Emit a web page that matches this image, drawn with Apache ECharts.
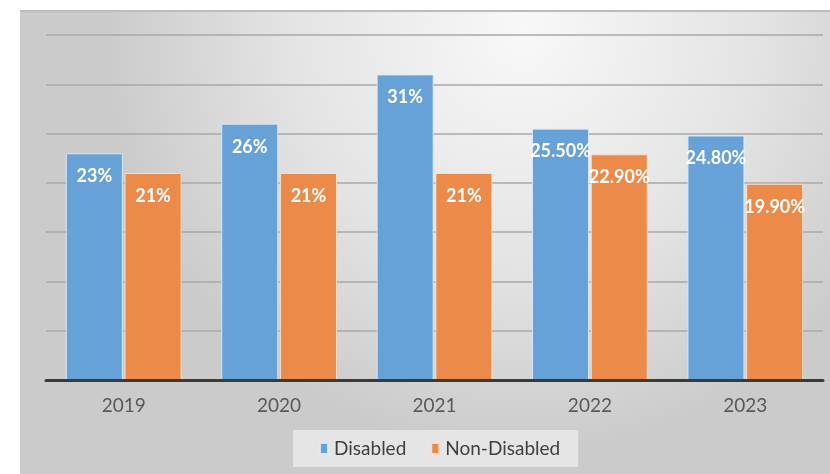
<!DOCTYPE html>
<html>
<head>
<meta charset="utf-8">
<script src="https://cdn.jsdelivr.net/npm/echarts@6/dist/echarts.min.js"></script>
<style>
html,body{margin:0;padding:0;background:#fff;}
#chart{width:830px;height:474px;}
</style>
</head>
<body>
<div id="chart"></div>
<script>
const categories = ['2019', '2020', '2021', '2022', '2023'];
const disabled = [23, 26, 31, 25.5, 24.8];
const nonDisabled = [21, 21, 21, 22.9, 19.9];
const disabledLabels = ['23%', '26%', '31%', '25.50%', '24.80%'];
const nonDisabledLabels = ['21%', '21%', '21%', '22.90%', '19.90%'];

const chart = echarts.init(document.getElementById('chart'), null, {renderer: 'canvas'});

const labelStyle = {
  show: true,
  position: 'insideTop',
  distance: 14,
  color: '#ffffff',
  fontFamily: 'Lato',
  fontWeight: 'bold',
  fontSize: 18
};

chart.setOption({
  animation: false,
  backgroundColor: '#ffffff',
  graphic: [
    {
      type: 'rect',
      z: -10,
      silent: true,
      shape: {x: 20, y: 10, width: 810, height: 464},
      style: {
        fill: new echarts.graphic.RadialGradient(0.62, 0.05, 0.9, [
          {offset: 0, color: '#f8f8f8'},
          {offset: 0.55, color: '#e4e4e4'},
          {offset: 1, color: '#cbcbcb'}
        ])
      }
    },
    {
      type: 'line',
      z: -9,
      silent: true,
      shape: {x1: 20, y1: 11, x2: 830, y2: 11},
      style: {stroke: '#bdbdbd', lineWidth: 2}
    }
  ],
  grid: {left: 46, right: 7, top: 35, bottom: 94, containLabel: false},
  legend: {
    top: 430,
    left: 293,
    padding: [9, 18, 9, 26],
    backgroundColor: 'rgba(240,240,240,0.7)',
    itemWidth: 8,
    itemHeight: 11,
    itemGap: 24,
    icon: 'rect',
    textStyle: {fontFamily: 'Lato', fontSize: 19, color: '#404040', padding: [0, 0, 0, 1]},
    data: ['Disabled', 'Non-Disabled']
  },
  xAxis: {
    type: 'category',
    data: categories,
    axisTick: {show: false},
    axisLine: {show: true, lineStyle: {color: '#3a3a3a', width: 3}},
    axisLabel: {fontFamily: 'Lato', fontSize: 19, color: '#595959', margin: 16},
    z: 10
  },
  yAxis: {
    type: 'value',
    min: 0,
    max: 35,
    interval: 5,
    axisLabel: {show: false},
    axisLine: {show: false},
    axisTick: {show: false},
    splitLine: {show: true, lineStyle: {color: '#a9a9a9', width: 1.5}}
  },
  series: [
    {
      name: 'Disabled',
      type: 'bar',
      data: disabled,
      barWidth: 57,
      barGap: '3%',
      itemStyle: {color: '#66a1d7', borderColor: 'rgba(220,235,250,0.9)', borderWidth: 1},
      label: Object.assign({}, labelStyle, {
        formatter: p => disabledLabels[p.dataIndex]
      })
    },
    {
      name: 'Non-Disabled',
      type: 'bar',
      data: nonDisabled,
      barWidth: 57,
      itemStyle: {color: '#ec8a4a', borderColor: 'rgba(250,225,205,0.9)', borderWidth: 1},
      label: Object.assign({}, labelStyle, {
        formatter: p => nonDisabledLabels[p.dataIndex]
      })
    }
  ]
});
</script>
</body>
</html>
